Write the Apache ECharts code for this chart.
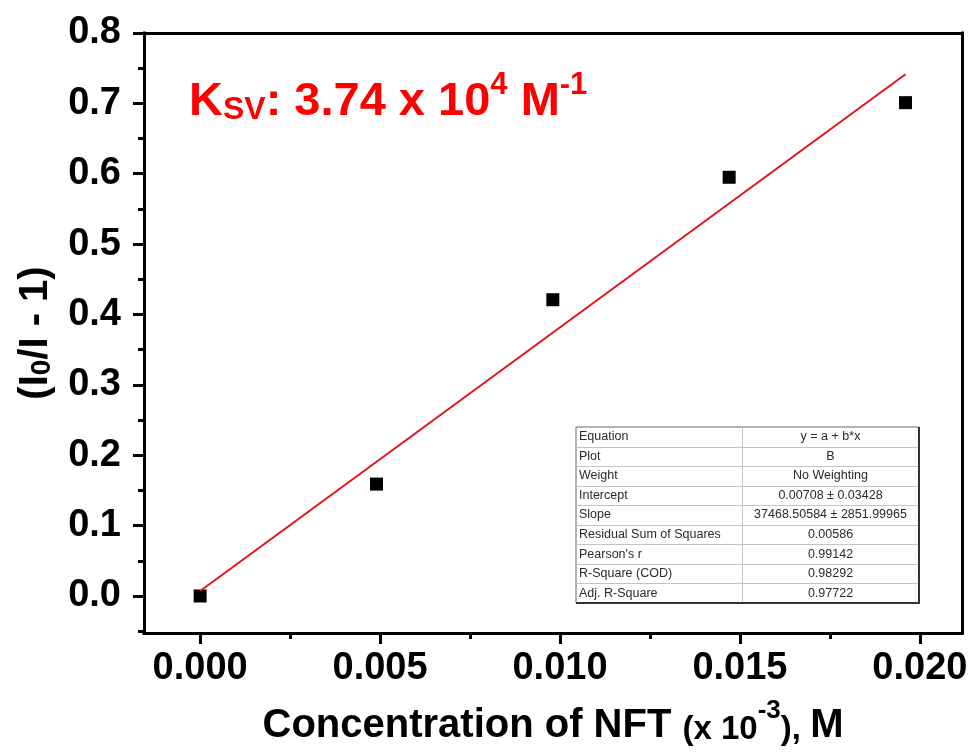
<!DOCTYPE html>
<html>
<head>
<meta charset="utf-8">
<script src="https://cdn.jsdelivr.net/npm/echarts@6/dist/echarts.min.js"></script>
<style>
  html, body { margin: 0; padding: 0; background: #fff; }
  #chart { width: 973px; height: 753px; }
</style>
</head>
<body>
<div id="chart"></div>
<script>
// Stern-Volmer quenching data: (I0/I - 1) against NFT concentration
const concentration = [0, 0.0049, 0.0098, 0.0147, 0.0196];
const quenchRatio = [0, 0.159, 0.421, 0.595, 0.701];

// Linear fit reported by the fit table (slope in M^-1, axis values are x 10^-3 M)
const fitIntercept = 0.00708;
const fitSlope = 37468.50584;
const axisUnitFactor = 1e-3;

// Axis tick positions
const xMajorTicks = [0, 0.005, 0.010, 0.015, 0.020];
const xMinorTicks = [0.0025, 0.0075, 0.0125, 0.0175];
const yMajorTicks = [0, 0.1, 0.2, 0.3, 0.4, 0.5, 0.6, 0.7, 0.8];
const yMinorTicks = [-0.05, 0.05, 0.15, 0.25, 0.35, 0.45, 0.55, 0.65, 0.75];

// Fit summary table
const tableLabels = ['Equation', 'Plot', 'Weight', 'Intercept', 'Slope',
  'Residual Sum of Squares', "Pearson's r", 'R-Square (COD)', 'Adj. R-Square'];
const tableValues = ['y = a + b*x', 'B', 'No Weighting', '0.00708 \u00b1 0.03428',
  '37468.50584 \u00b1 2851.99965', '0.00586', '0.99142', '0.98292', '0.97722'];

const FONT = '"Liberation Sans", Arial, Helvetica, sans-serif';
const X_MIN = -0.00156, X_MAX = 0.02117;
const Y_MIN = -0.0526, Y_MAX = 0.8;

const fitX = [concentration[0], concentration[concentration.length - 1]];
const fitLine = fitX.map(x => [x, fitIntercept + fitSlope * x * axisUnitFactor]);

const chart = echarts.init(document.getElementById('chart'), null, { renderer: 'canvas' });

// Fit table drawn as graphic elements
const tbl = { left: 576, top: 427, colSplit: 742, right: 919, rowH: 19.55 };
const tableElements = [];
const tblBottom = tbl.top + tbl.rowH * tableLabels.length;
tableElements.push({
  type: 'rect',
  shape: { x: tbl.left, y: tbl.top, width: tbl.right - tbl.left, height: tblBottom - tbl.top },
  style: { fill: '#fff', stroke: '#666', lineWidth: 1 }
});
for (let i = 1; i < tableLabels.length; i++) {
  const y = Math.round(tbl.top + i * tbl.rowH) + 0.5;
  tableElements.push({
    type: 'line', shape: { x1: tbl.left, y1: y, x2: tbl.right, y2: y },
    style: { stroke: '#c4c4c4', lineWidth: 1 }
  });
}
tableElements.push({
  type: 'line', shape: { x1: tbl.colSplit + 0.5, y1: tbl.top, x2: tbl.colSplit + 0.5, y2: tblBottom },
  style: { stroke: '#c4c4c4', lineWidth: 1 }
});
tableElements.push({
  type: 'polyline', shape: { points: [[tbl.right, tbl.top], [tbl.right, tblBottom], [tbl.left, tblBottom]] },
  style: { stroke: '#333', lineWidth: 2, fill: null }
});
tableLabels.forEach((label, i) => {
  const cy = tbl.top + (i + 0.5) * tbl.rowH;
  tableElements.push({
    type: 'text', x: tbl.left + 3, y: cy,
    style: { text: label, font: '12.5px ' + FONT, fill: '#2a2a2a', align: 'left', verticalAlign: 'middle' }
  });
  tableElements.push({
    type: 'text', x: (tbl.colSplit + tbl.right) / 2, y: cy,
    style: { text: tableValues[i], font: '12.5px ' + FONT, fill: '#2a2a2a', align: 'center', verticalAlign: 'middle' }
  });
});

const axisBlack = { color: '#000', width: 3, cap: 'square' };
const labelStyle = { fontFamily: FONT, fontWeight: 'bold', fontSize: 38, color: '#000' };

const option = {
  animation: false,
  backgroundColor: '#fff',
  grid: { left: 144, right: 11, top: 33, bottom: 120, containLabel: false, outerBoundsMode: 'none' },
  xAxis: [
    {
      type: 'value', min: X_MIN, max: X_MAX, position: 'bottom',
      axisLine: { show: true, onZero: false, lineStyle: axisBlack },
      axisTick: { show: true, inside: false, length: 11, customValues: xMajorTicks, lineStyle: { color: '#000', width: 3 } },
      axisLabel: Object.assign({ customValues: xMajorTicks, margin: 17, formatter: v => v.toFixed(3) }, labelStyle),
      splitLine: { show: false },
      name: '{b|Concentration of NFT }{s|(x 10}{sup|-3}{s|), }{b|M}',
      nameLocation: 'middle', nameGap: 65,
      nameTextStyle: {
        fontFamily: FONT, fontWeight: 'bold', color: '#000', fontSize: 40,
        rich: {
          b: { fontFamily: FONT, fontWeight: 'bold', fontSize: 40, lineHeight: 48, verticalAlign: 'bottom', color: '#000' },
          s: { fontFamily: FONT, fontWeight: 'bold', fontSize: 33, lineHeight: 43, verticalAlign: 'bottom', color: '#000' },
          sup: { fontFamily: FONT, fontWeight: 'bold', fontSize: 26, lineHeight: 24, verticalAlign: 'top', color: '#000' }
        }
      }
    },
    {
      type: 'value', min: X_MIN, max: X_MAX, position: 'bottom',
      axisLine: { show: false, onZero: false },
      axisTick: { show: true, inside: false, length: 6, customValues: xMinorTicks, lineStyle: { color: '#000', width: 3 } },
      axisLabel: { show: false }, splitLine: { show: false }
    },
    {
      type: 'value', min: X_MIN, max: X_MAX, position: 'top',
      axisLine: { show: true, onZero: false, lineStyle: axisBlack },
      axisTick: { show: false }, axisLabel: { show: false }, splitLine: { show: false }
    }
  ],
  yAxis: [
    {
      type: 'value', min: Y_MIN, max: Y_MAX, position: 'left',
      axisLine: { show: true, onZero: false, lineStyle: axisBlack },
      axisTick: { show: true, inside: false, length: 11, customValues: yMajorTicks, lineStyle: { color: '#000', width: 3 } },
      axisLabel: Object.assign({ customValues: yMajorTicks, margin: 23, formatter: v => v.toFixed(1) }, labelStyle),
      splitLine: { show: false },
      name: '{b|(I}{sub|0}{b|/I - 1)}',
      nameLocation: 'middle', nameGap: 88, nameRotate: 90,
      nameTextStyle: {
        fontFamily: FONT, fontWeight: 'bold', color: '#000', fontSize: 40,
        rich: {
          b: { fontFamily: FONT, fontWeight: 'bold', fontSize: 40, lineHeight: 46, verticalAlign: 'bottom', color: '#000' },
          sub: { fontFamily: FONT, fontWeight: 'bold', fontSize: 28, lineHeight: 24, verticalAlign: 'bottom', color: '#000' }
        }
      }
    },
    {
      type: 'value', min: Y_MIN, max: Y_MAX, position: 'left',
      axisLine: { show: false, onZero: false },
      axisTick: { show: true, inside: false, length: 6, customValues: yMinorTicks, lineStyle: { color: '#000', width: 3 } },
      axisLabel: { show: false }, splitLine: { show: false }
    },
    {
      type: 'value', min: Y_MIN, max: Y_MAX, position: 'right',
      axisLine: { show: true, onZero: false, lineStyle: axisBlack },
      axisTick: { show: false }, axisLabel: { show: false }, splitLine: { show: false }
    }
  ],
  series: [
    {
      type: 'scatter', xAxisIndex: 0, yAxisIndex: 0,
      data: concentration.map((x, i) => [x, quenchRatio[i]]),
      symbol: 'rect', symbolSize: 13,
      itemStyle: { color: '#000', opacity: 1 }
    },
    {
      type: 'line', xAxisIndex: 0, yAxisIndex: 0,
      data: fitLine, showSymbol: false, symbol: 'none',
      lineStyle: { color: '#e3131b', width: 2 }
    }
  ],
  graphic: [
    {
      type: 'text', left: 189, top: 70,
      style: {
        text: '{k|K}{sub|SV}{k|: 3.74 x 10}{sup|4}{k| M}{sup|-1}',
        rich: {
          k: { font: 'bold 47px ' + FONT, fill: '#f00', lineHeight: 56, verticalAlign: 'bottom' },
          sub: { font: 'bold 32px ' + FONT, fill: '#f00', lineHeight: 27, verticalAlign: 'bottom' },
          sup: { font: 'bold 31px ' + FONT, fill: '#f00', lineHeight: 42, verticalAlign: 'top' }
        }
      }
    },
    { type: 'group', children: tableElements }
  ]
};

chart.setOption(option);
</script>
</body>
</html>
